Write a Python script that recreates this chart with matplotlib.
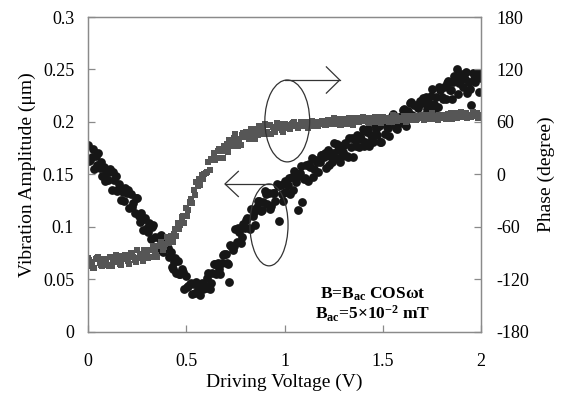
import matplotlib
matplotlib.use("Agg")
import matplotlib.pyplot as plt
from matplotlib.patches import Ellipse

plt.rcParams["font.family"] = ["Liberation Serif", "DejaVu Serif"]
plt.rcParams["mathtext.fontset"] = "custom"
plt.rcParams["mathtext.rm"] = "Liberation Serif"
plt.rcParams["mathtext.bf"] = "Liberation Serif:bold"
plt.rcParams["mathtext.it"] = "Liberation Serif:italic"

# driving voltage sweep (V), first pass
volts = [
    0.00, 0.01, 0.02, 0.03, 0.04, 0.05, 0.06, 0.07, 0.08, 0.09,
    0.10, 0.11, 0.12, 0.13, 0.14, 0.15, 0.16, 0.17, 0.18, 0.19,
    0.20, 0.21, 0.22, 0.23, 0.24, 0.25, 0.26, 0.27, 0.28, 0.29,
    0.30, 0.31, 0.32, 0.33, 0.34, 0.35, 0.36, 0.37, 0.38, 0.39,
    0.40, 0.41, 0.42, 0.43, 0.44, 0.45, 0.46, 0.47, 0.48, 0.49,
    0.50, 0.51, 0.52, 0.53, 0.54, 0.55, 0.56, 0.57, 0.58, 0.59,
    0.60, 0.61, 0.62, 0.63, 0.64, 0.65, 0.66, 0.67, 0.68, 0.69,
    0.70, 0.71, 0.72, 0.73, 0.74, 0.75, 0.76, 0.77, 0.78, 0.79,
    0.80, 0.81, 0.82, 0.83, 0.84, 0.85, 0.86, 0.87, 0.88, 0.89,
    0.90, 0.91, 0.92, 0.93, 0.94, 0.95, 0.96, 0.97, 0.98, 0.99,
    1.00, 1.01, 1.02, 1.03, 1.04, 1.05, 1.06, 1.07, 1.08, 1.09,
    1.10, 1.11, 1.12, 1.13, 1.14, 1.15, 1.16, 1.17, 1.18, 1.19,
    1.20, 1.21, 1.22, 1.23, 1.24, 1.25, 1.26, 1.27, 1.28, 1.29,
    1.30, 1.31, 1.32, 1.33, 1.34, 1.35, 1.36, 1.37, 1.38, 1.39,
    1.40, 1.41, 1.42, 1.43, 1.44, 1.45, 1.46, 1.47, 1.48, 1.49,
    1.50, 1.51, 1.52, 1.53, 1.54, 1.55, 1.56, 1.57, 1.58, 1.59,
    1.60, 1.61, 1.62, 1.63, 1.64, 1.65, 1.66, 1.67, 1.68, 1.69,
    1.70, 1.71, 1.72, 1.73, 1.74, 1.75, 1.76, 1.77, 1.78, 1.79,
    1.80, 1.81, 1.82, 1.83, 1.84, 1.85, 1.86, 1.87, 1.88, 1.89,
    1.90, 1.91, 1.92, 1.93, 1.94, 1.95, 1.96, 1.97, 1.98, 1.99,
    2.00,
]

# vibration amplitude (um), left axis, first pass
amplitude = [
    0.178, 0.164, 0.167, 0.155, 0.168, 0.170, 0.156, 0.149, 0.157, 0.151,
    0.145, 0.155, 0.135, 0.145, 0.149, 0.135, 0.141, 0.126, 0.133, 0.137,
    0.132, 0.118, 0.131, 0.123, 0.113, 0.128, 0.110, 0.113, 0.097, 0.109,
    0.099, 0.104, 0.089, 0.102, 0.090, 0.077, 0.090, 0.092, 0.076, 0.081,
    0.087, 0.071, 0.076, 0.060, 0.067, 0.056, 0.068, 0.055, 0.060, 0.041,
    0.053, 0.044, 0.046, 0.036, 0.046, 0.048, 0.040, 0.035, 0.047, 0.045,
    0.042, 0.056, 0.041, 0.056, 0.065, 0.055, 0.066, 0.055, 0.066, 0.074,
    0.074, 0.065, 0.048, 0.082, 0.078, 0.098, 0.086, 0.095, 0.085, 0.103,
    0.099, 0.109, 0.099, 0.117, 0.110, 0.102, 0.119, 0.125, 0.115, 0.124,
    0.134, 0.122, 0.132, 0.120, 0.132, 0.125, 0.141, 0.106, 0.140, 0.125,
    0.144, 0.133, 0.140, 0.131, 0.148, 0.153, 0.143, 0.116, 0.151, 0.124,
    0.146, 0.159, 0.144, 0.157, 0.166, 0.155, 0.164, 0.152, 0.162, 0.169,
    0.167, 0.156, 0.173, 0.168, 0.162, 0.180, 0.166, 0.173, 0.162, 0.177,
    0.171, 0.180, 0.168, 0.185, 0.176, 0.167, 0.183, 0.188, 0.176, 0.184,
    0.193, 0.181, 0.190, 0.177, 0.188, 0.181, 0.197, 0.188, 0.196, 0.181,
    0.200, 0.189, 0.195, 0.187, 0.203, 0.208, 0.197, 0.193, 0.205, 0.202,
    0.199, 0.212, 0.196, 0.210, 0.218, 0.207, 0.216, 0.204, 0.213, 0.220,
    0.218, 0.207, 0.224, 0.219, 0.213, 0.231, 0.217, 0.224, 0.214, 0.230,
    0.224, 0.233, 0.222, 0.239, 0.230, 0.222, 0.238, 0.242, 0.250, 0.237,
    0.246, 0.233, 0.241, 0.228, 0.238, 0.216, 0.247, 0.238, 0.245, 0.229,
    0.242,
]

# phase (degree), right axis, first pass
phase = [
    -96, -105, -100, -107, -97, -94, -101, -105, -97, -100,
    -103, -94, -105, -97, -92, -100, -93, -103, -97, -92,
    -94, -102, -90, -94, -98, -86, -96, -92, -99, -88,
    -92, -86, -94, -82, -88, -94, -82, -77, -86, -79,
    -72, -78, -70, -77, -68, -70, -56, -58, -49, -55,
    -38, -41, -32, -33, -18, -9, -13, -12, -1, 1,
    2, 14, 5, 16, 24, 19, 27, 19, 27, 33,
    33, 26, 39, 36, 33, 46, 36, 41, 34, 47,
    43, 49, 41, 52, 46, 40, 52, 55, 46, 51,
    58, 49, 56, 46, 54, 49, 59, 53, 58, 48,
    58, 53, 56, 52, 58, 60, 55, 53, 57, 57,
    55, 60, 53, 58, 61, 57, 60, 55, 58, 61,
    60, 56, 62, 60, 58, 64, 58, 61, 56, 63,
    60, 63, 58, 64, 60, 57, 63, 65, 60, 63,
    66, 61, 64, 59, 63, 60, 66, 62, 65, 59,
    66, 61, 64, 60, 65, 68, 63, 61, 65, 64,
    62, 67, 60, 65, 67, 64, 67, 62, 65, 67,
    66, 62, 68, 66, 63, 70, 64, 67, 62, 68,
    65, 68, 63, 69, 65, 63, 69, 70, 65, 68,
    71, 66, 69, 64, 68, 66, 71, 67, 70, 64,
    68,
]

# second pass, between the first-pass voltages
volts_b = [
    0.005, 0.025, 0.045, 0.065, 0.085, 0.105, 0.125, 0.145, 0.165, 0.185,
    0.205, 0.225, 0.245, 0.265, 0.285, 0.305, 0.325, 0.345, 0.365, 0.385,
    0.405, 0.425, 0.445, 0.465, 0.485, 0.505, 0.525, 0.545, 0.565, 0.585,
    0.605, 0.625, 0.645, 0.665, 0.685, 0.705, 0.725, 0.745, 0.765, 0.785,
    0.805, 0.825, 0.845, 0.865, 0.885, 0.905, 0.925, 0.945, 0.965, 0.985,
    1.005, 1.025, 1.045, 1.065, 1.085, 1.105, 1.125, 1.145, 1.165, 1.185,
    1.205, 1.225, 1.245, 1.265, 1.285, 1.305, 1.325, 1.345, 1.365, 1.385,
    1.405, 1.425, 1.445, 1.465, 1.485, 1.505, 1.525, 1.545, 1.565, 1.585,
    1.605, 1.625, 1.645, 1.665, 1.685, 1.705, 1.725, 1.745, 1.765, 1.785,
    1.805, 1.825, 1.845, 1.865, 1.885, 1.905, 1.925, 1.945, 1.965, 1.985,
]

amplitude_b = [
    0.163, 0.174, 0.159, 0.162, 0.144, 0.152, 0.152, 0.134, 0.136, 0.125,
    0.135, 0.119, 0.128, 0.105, 0.108, 0.095, 0.100, 0.079, 0.089, 0.079,
    0.080, 0.062, 0.070, 0.055, 0.057, 0.043, 0.047, 0.037, 0.044, 0.041,
    0.051, 0.047, 0.065, 0.060, 0.073, 0.066, 0.083, 0.082, 0.099, 0.090,
    0.107, 0.098, 0.114, 0.125, 0.116, 0.131, 0.117, 0.132, 0.139, 0.131,
    0.133, 0.147, 0.135, 0.148, 0.158, 0.147, 0.160, 0.148, 0.162, 0.169,
    0.170, 0.159, 0.170, 0.179, 0.167, 0.178, 0.167, 0.185, 0.177, 0.187,
    0.177, 0.193, 0.184, 0.193, 0.181, 0.199, 0.194, 0.206, 0.194, 0.205,
    0.211, 0.203, 0.219, 0.205, 0.217, 0.223, 0.212, 0.225, 0.213, 0.233,
    0.222, 0.237, 0.230, 0.244, 0.227, 0.241, 0.248, 0.231, 0.241, 0.247,
]

phase_b = [
    -98, -107, -95, -103, -97, -105, -98, -93, -102, -95,
    -99, -90, -100, -91, -86, -95, -86, -92, -81, -83,
    -75, -77, -62, -62, -47, -47, -28, -23, -5, -5,
    3, 18, 17, 29, 19, 35, 32, 42, 33, 45,
    48, 43, 52, 45, 53, 46, 56, 51, 57, 51,
    57, 53, 59, 55, 60, 55, 58, 55, 60, 58,
    57, 62, 59, 63, 57, 63, 59, 64, 60, 64,
    65, 60, 64, 60, 66, 62, 65, 60, 67, 62,
    62, 67, 62, 67, 64, 68, 63, 68, 63, 68,
    68, 64, 70, 64, 69, 66, 70, 66, 70, 65,
]

amp_ticks = [0, 0.05, 0.1, 0.15, 0.2, 0.25, 0.3]
amp_labels = ["0", "0.05", "0.1", "0.15", "0.2", "0.25", "0.3"]
phase_ticks = [-180, -120, -60, 0, 60, 120, 180]
volt_ticks = [0, 0.5, 1, 1.5, 2]
volt_labels = ["0", "0.5", "1", "1.5", "2"]

SPINE = "#8a8a8a"

fig = plt.figure(figsize=(5.61, 4.01), dpi=100)
ax = fig.add_axes([0.1569, 0.1721, 0.7005, 0.7855])
ax2 = ax.twinx()

ax.scatter(volts + volts_b, amplitude + amplitude_b, s=40, color="#161616",
           marker="o", linewidths=0, zorder=2)
ax2.scatter(volts + volts_b, phase + phase_b, s=15, color="#565656",
            marker="s", linewidths=0, zorder=2)

ax.set_xlim(0, 2)
ax.set_ylim(0, 0.3)
ax2.set_ylim(-180, 180)
ax.set_xticks(volt_ticks)
ax.set_xticklabels(volt_labels)
ax.set_yticks(amp_ticks)
ax.set_yticklabels(amp_labels)
ax2.set_yticks(phase_ticks)
ax2.set_yticklabels([str(t) for t in phase_ticks])

for a in (ax, ax2):
    for sp in a.spines.values():
        sp.set_color(SPINE)
        sp.set_linewidth(0.9)
ax.tick_params(axis="x", direction="in", length=5, width=0.9, color=SPINE,
               labelsize=13, pad=15)
ax.tick_params(axis="y", direction="in", length=5, width=0.9, color=SPINE,
               labelsize=13, pad=10)
ax2.tick_params(axis="y", direction="in", length=5, width=0.9, color=SPINE,
                labelsize=13, pad=11)

ax.set_xlabel("Driving Voltage (V)", fontsize=14, labelpad=3)
ax.set_ylabel("Vibration Amplitude (\u03bcm)", fontsize=14, labelpad=5)
ax2.set_ylabel("Phase (degree)", fontsize=14, labelpad=6)

# loop markers pointing at each axis
tr = ax.transData
lc = "#333333"
ax2.add_patch(Ellipse((1.014, 0.201), 0.228, 0.078, transform=tr,
                      fill=False, edgecolor=lc, linewidth=0.9, zorder=3))
ax2.plot([1.0, 1.281], [0.240, 0.240], color=lc, lw=0.9, transform=tr, zorder=3)
ax2.plot([1.213, 1.281, 1.213], [0.2525, 0.240, 0.2275], color=lc, lw=0.9,
         transform=tr, zorder=3)

ax2.add_patch(Ellipse((0.921, 0.102), 0.194, 0.078, transform=tr,
                      fill=False, edgecolor=lc, linewidth=0.9, zorder=3))
ax2.plot([0.93, 0.697], [0.141, 0.141], color=lc, lw=0.9, transform=tr, zorder=3)
ax2.plot([0.765, 0.697, 0.765], [0.153, 0.141, 0.129], color=lc, lw=0.9,
         transform=tr, zorder=3)

ax2.text(1.447, 0.032, "B=B$_{\\mathbf{ac}}$ COS\u03c9t",
         transform=tr, ha="center", va="baseline", fontsize=12.5,
         fontweight="bold", zorder=4)
ax2.text(1.447, 0.012, "B$_{\\mathbf{ac}}$=5\u00d710$^{\\mathbf{-2}}$ mT",
         transform=tr, ha="center", va="baseline", fontsize=12.5,
         fontweight="bold", zorder=4)

fig.savefig("out.png", dpi=100)
